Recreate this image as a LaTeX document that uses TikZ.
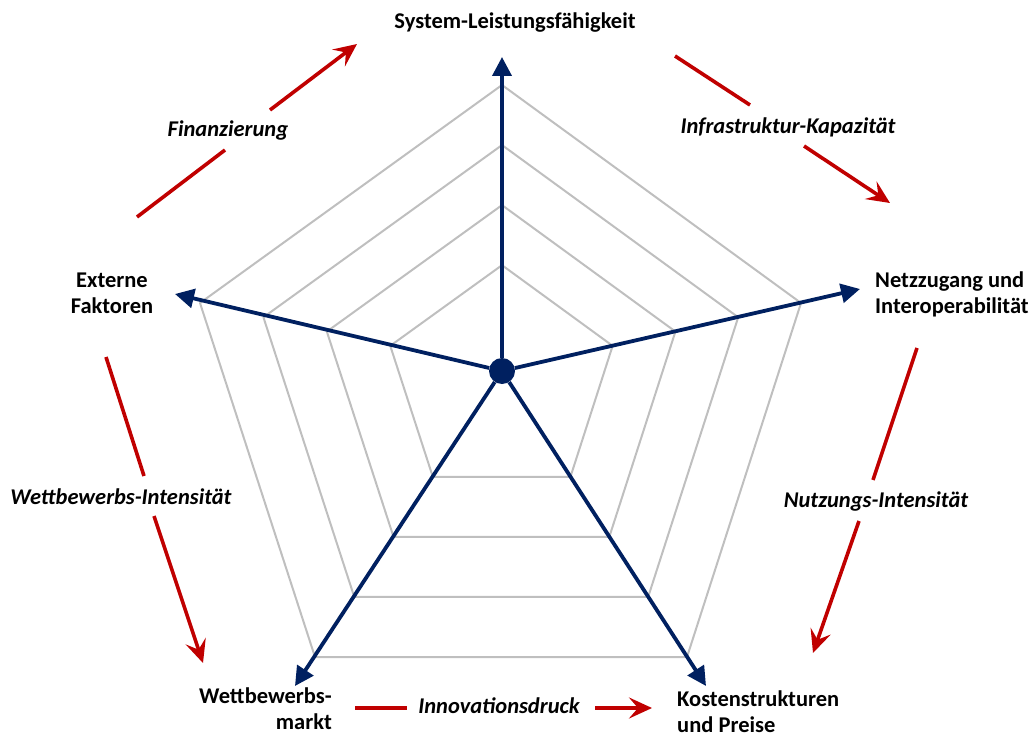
\documentclass[tikz,border=0pt]{standalone}
\usepackage{fontspec}
\setmainfont{Carlito}
\usetikzlibrary{arrows.meta,calc}
\definecolor{navy}{HTML}{002060}
\definecolor{darkred}{HTML}{C00000}
\definecolor{gridgray}{HTML}{BFBFBF}

\begin{document}
\begin{tikzpicture}[x=1pt,y=-1pt,
  axis/.style={navy, line width=3.8pt, -{Triangle[length=19pt,width=19pt]}},
  ring/.style={gridgray, line width=2pt, line join=round},
  trend/.style={darkred, line width=3.6pt},
  trendtip/.style={trend, -{Stealth[length=23pt,width=21pt,inset=9pt]}},
  hubdot/.style={circle, fill=navy, minimum size=26pt, inner sep=0pt},
  dim/.style={font=\fontsize{22.5}{26}\selectfont\bfseries, inner sep=0pt},
  force/.style={font=\fontsize{22.5}{26}\selectfont\bfseries\itshape, inner sep=0pt}]

\useasboundingbox (0,0) rectangle (1033,738);

% centre of the star and outer pentagon corners
\coordinate (c)   at (502,371);
\coordinate (vT)  at (502,85);
\coordinate (vR)  at (801,303);
\coordinate (vBR) at (687,657);
\coordinate (vBL) at (315,657);
\coordinate (vL)  at (200,303);

% axis ends
\coordinate (tT)  at (502,57);
\coordinate (tR)  at (860,289);
\coordinate (tBR) at (706,686);
\coordinate (tBL) at (295,686);
\coordinate (tL)  at (175,294);

% grid rings, scaled about the centre
\foreach \s in {1,0.79,0.58,0.37}
  \draw[ring] ($(c)!\s!(vT)$) -- ($(c)!\s!(vR)$) -- ($(c)!\s!(vBR)$)
              -- ($(c)!\s!(vBL)$) -- ($(c)!\s!(vL)$) -- cycle;

% hub and axes
\node[hubdot] (hub) at (c) {};
\foreach \t in {tT,tR,tBR,tBL,tL}
  \draw[axis] (hub) -- (\t);

% dimension labels
\node[dim] (sys) at (515,23) {System-Leistungsfähigkeit};
\node[dim, align=center] (ext) at (112,293) {Externe\\Faktoren};
\node[dim, align=left, anchor=west] (net) at (875,294) {Netzzugang und\\Interoperabilität};
\node[dim, align=right, anchor=east] (mkt) at (332,709) {Wettbewerbs-\\markt};
\node[dim, align=left, anchor=west] (cost) at (677,712) {Kostenstrukturen\\und Preise};

% driving forces
\node[force] (fin)  at (228,131) {Finanzierung};
\node[force] (infra) at (788,127) {Infrastruktur-Kapazität};
\node[force] (use)  at (876,501) {Nutzungs-Intensität};
\node[force] (comp) at (121,497) {Wettbewerbs-Intensität};
\node[force] (inno) at (499,706) {Innovationsdruck};

\coordinate (f1) at (137,217); \coordinate (f2) at (225,150);
\coordinate (f3) at (270,110); \coordinate (f4) at (357,44);
\coordinate (k1) at (675,56);  \coordinate (k2) at (750,105);
\coordinate (k3) at (804,146); \coordinate (k4) at (890,203);
\coordinate (n1) at (917,348); \coordinate (n2) at (873,480);
\coordinate (n3) at (859,521); \coordinate (n4) at (813,653);
\coordinate (w1) at (106,357); \coordinate (w2) at (144,476);
\coordinate (w3) at (154,516); \coordinate (w4) at (203,663);
\coordinate (i1) at (355,708); \coordinate (i2) at (407,708);
\coordinate (i3) at (595,708); \coordinate (i4) at (652,708);

\draw[trend] (f1) -- (f2);  \draw[trendtip] (f3) -- (f4);
\draw[trend] (k1) -- (k2);  \draw[trendtip] (k3) -- (k4);
\draw[trend] (n1) -- (n2);  \draw[trendtip] (n3) -- (n4);
\draw[trend] (w1) -- (w2);  \draw[trendtip] (w3) -- (w4);
\draw[trend] (i1) -- (i2);  \draw[trendtip] (i3) -- (i4);
\end{tikzpicture}
\end{document}
